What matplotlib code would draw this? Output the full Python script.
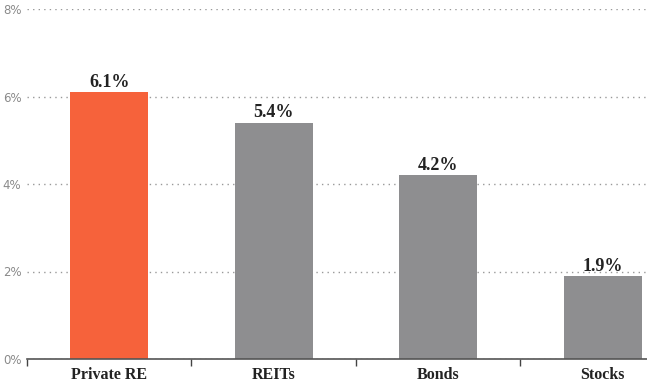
import matplotlib.pyplot as plt
import numpy as np

categories = ["Private RE", "REITs", "Bonds", "Stocks"]
values = [6.1, 5.4, 4.2, 1.9]
labels = ["6.1%", "5.4%", "4.2%", "1.9%"]
colors = ["#F6623B", "#8E8E90", "#8E8E90", "#8E8E90"]
yticks = [0, 2, 4, 6, 8]

fig = plt.figure(figsize=(6.47, 3.83), dpi=100)
ax = fig.add_axes([27 / 647, 24 / 383, 620 / 647, 350 / 383])

x = np.arange(len(categories))
ax.bar(x, values, width=0.475, color=colors, zorder=3)

for xi, v, lab in zip(x, values, labels):
    ax.text(xi, v + 0.03, lab, ha="center", va="bottom", fontsize=13,
            fontweight="bold", family="Liberation Serif", color="#222222")

ax.set_yticks(yticks)
ax.set_yticklabels([f"{t}%" for t in yticks], fontsize=8.5, color="#8a8a8a")
ax.tick_params(axis="y", length=0, pad=4)

ax.set_xticks(x)
ax.set_xticklabels(categories, fontsize=11.5, fontweight="bold",
                   family="Liberation Serif", color="#222222")
ax.set_xticks(np.arange(-0.5, 3.6, 1), minor=True)
ax.tick_params(axis="x", which="major", length=0, pad=6)
ax.tick_params(axis="x", which="minor", length=5, width=1, color="#444444")

# limits after ticks so the minor ticks don't widen the view
ax.set_xlim(-0.5, 3.27)
ax.set_ylim(0, 8)

ax.grid(axis="y", linestyle=(0, (1, 3)), color="#999999", linewidth=1, zorder=0)
for s in ["top", "right", "left"]:
    ax.spines[s].set_visible(False)
ax.spines["bottom"].set_color("#555555")
ax.spines["bottom"].set_linewidth(1.2)
ax.spines["bottom"].set_zorder(4)

fig.savefig("out.png", dpi=100)
